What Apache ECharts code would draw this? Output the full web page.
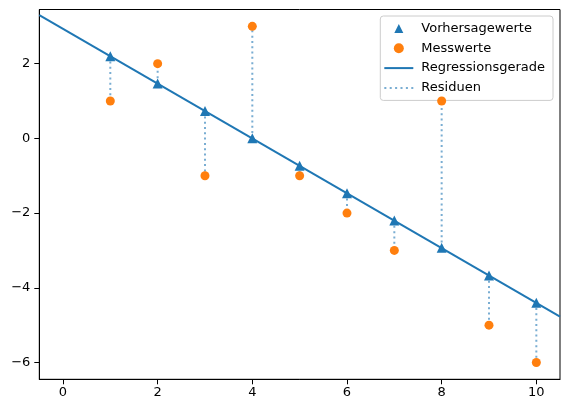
<!DOCTYPE html>
<html><head><meta charset="utf-8">
<script src="https://cdn.jsdelivr.net/npm/echarts@6/dist/echarts.min.js"></script>
<style>html,body{margin:0;padding:0;background:#fff}#c{width:569px;height:411px}</style>
</head><body><div id="c"></div>
<script>
const xValues = [1, 2, 3, 4, 5, 6, 7, 8, 9, 10];
const measured = [1, 2, -1, 3, -1, -2, -3, 1, -5, -6];
const predicted = [2.2, 1.47, 0.73, 0, -0.73, -1.47, -2.2, -2.93, -3.67, -4.4];
const lineX = [-0.5, 10.5];
const lineY = [3.3, -4.77];
const xTicks = [0, 2, 4, 6, 8, 10];
const yTicks = [-6, -4, -2, 0, 2];

const blue = '#1f77b4', orange = '#ff7f0e';
const residData = [];
xValues.forEach((x, i) => { residData.push([x, predicted[i]], [x, measured[i]], '-'); });
const fmt = v => String(v).replace('-', '\u2212');
const font = 'DejaVu Sans';

// legend glyphs
const triIcon = 'path://M0,0M29,10M10,9.5L14.5,0.5L19,9.5Z';
const solidIcon = 'path://M0,0h29v2h-29z';
let dots = '';
for (let p = 0; p < 29; p += 5.3) dots += 'M' + p.toFixed(1) + ',0h2v2h-2z';
const dottedIcon = 'path://' + dots;

const chart = echarts.init(document.getElementById('c'));
chart.setOption({
  animation: false,
  textStyle: { fontFamily: font },
  grid: { left: 39.3, right: 9, top: 9.5, bottom: 31.7, show: true, borderColor: '#000', borderWidth: 1, backgroundColor: 'transparent' },
  xAxis: {
    type: 'value', min: -0.5, max: 10.5,
    axisLine: { show: true, onZero: false, lineStyle: { color: '#000', width: 1 } },
    axisTick: { show: true, length: 5, lineStyle: { color: '#000' }, customValues: xTicks },
    axisLabel: { color: '#000', fontSize: 13, fontFamily: font, margin: 7, customValues: xTicks, formatter: fmt },
    splitLine: { show: false }
  },
  yAxis: {
    type: 'value', min: -6.45, max: 3.45,
    axisLine: { show: true, onZero: false, lineStyle: { color: '#000', width: 1 } },
    axisTick: { show: true, length: 5, lineStyle: { color: '#000' }, customValues: yTicks },
    axisLabel: { color: '#000', fontSize: 13, fontFamily: font, margin: 9, customValues: yTicks, formatter: fmt },
    splitLine: { show: false }
  },
  legend: {
    orient: 'vertical', right: 16, top: 16,
    backgroundColor: 'rgba(255,255,255,0.8)', borderColor: '#cccccc', borderWidth: 1, borderRadius: 3,
    padding: [6, 8, 6, 4], itemWidth: 29, itemHeight: 10, itemGap: 6.8, symbolKeepAspect: true,
    textStyle: { color: '#000', fontSize: 13, fontFamily: font, padding: [0, 0, 0, 3] },
    data: [
      { name: 'Vorhersagewerte', icon: triIcon },
      { name: 'Messwerte', icon: 'circle' },
      { name: 'Regressionsgerade', icon: solidIcon },
      { name: 'Residuen', icon: dottedIcon, itemStyle: { opacity: 0.6 } }
    ]
  },
  series: [
    {
      name: 'Residuen', type: 'line', data: residData, symbol: 'none', connectNulls: false,
      lineStyle: { color: blue, opacity: 0.6, width: 2, type: [2, 3.3] }, itemStyle: { color: blue, opacity: 0.6 }, z: 1
    },
    {
      name: 'Regressionsgerade', type: 'line', data: lineX.map((x, i) => [x, lineY[i]]), symbol: 'none',
      lineStyle: { color: blue, width: 2 }, itemStyle: { color: blue }, z: 2
    },
    {
      name: 'Vorhersagewerte', type: 'scatter', data: xValues.map((x, i) => [x, predicted[i]]),
      symbol: 'triangle', symbolSize: 10, symbolKeepAspect: true, itemStyle: { color: blue, opacity: 1 }, z: 3
    },
    {
      name: 'Messwerte', type: 'scatter', data: xValues.map((x, i) => [x, measured[i]]),
      symbol: 'circle', symbolSize: 9, symbolKeepAspect: true, itemStyle: { color: orange, opacity: 1 }, z: 4
    }
  ]
});
</script></body></html>
